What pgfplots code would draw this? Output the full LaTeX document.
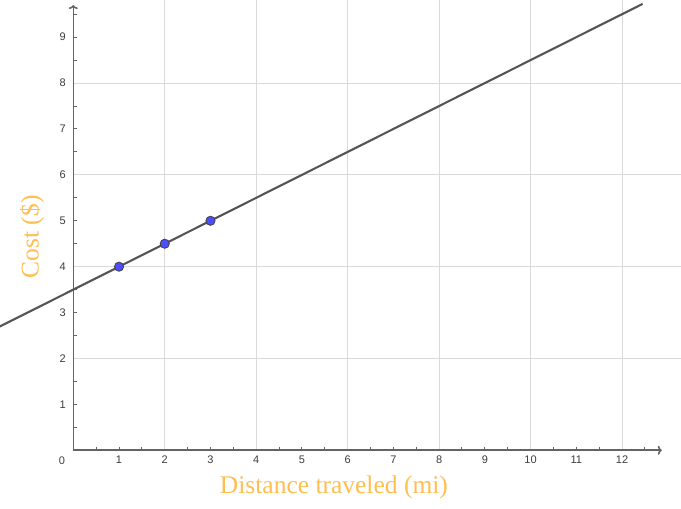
\documentclass[border=0pt]{standalone}
\usepackage{pgfplots}
\pgfplotsset{compat=1.18}
\usepackage{fontspec}
\setmainfont{Liberation Serif}
\newfontfamily\tickfont{Liberation Sans}
\usetikzlibrary{arrows.meta}
\definecolor{lbl}{RGB}{255,190,80}
\definecolor{gridc}{RGB}{218,218,218}
\definecolor{axc}{RGB}{100,100,100}
\definecolor{linec}{RGB}{85,85,85}
\definecolor{ptc}{RGB}{77,77,255}
\definecolor{tickc}{RGB}{60,60,60}
\begin{document}
\begin{tikzpicture}
\begin{axis}[
  width=681pt, height=509pt, scale only axis,
  xmin=-1.603, xmax=13.29, ymin=-1.279, ymax=9.81,
  axis lines=middle, axis line style={draw=none},
  xtick={1,...,12}, ytick={1,...,9},
  minor xtick={0.5,1.5,...,12.5}, minor ytick={0.5,1.5,...,9.5},
  tick align=inside,
  major tick length=3.5pt, minor tick length=3.5pt,
  every tick/.style={axc, line width=1pt},
  every minor tick/.style={axc, line width=1pt},
  /pgf/number format/assume math mode=true,
  xticklabel style={font=\tickfont\fontsize{11}{13}\selectfont, text=tickc, yshift=-2pt},
  yticklabel style={font=\tickfont\fontsize{11}{13}\selectfont, text=tickc, xshift=-4pt},
  clip=true,
]
\path (rel axis cs:0,0) rectangle (rel axis cs:1,1);
% grid
\draw[gridc, line width=0.9pt] (axis cs:2,0) -- (axis cs:2,9.81);
\draw[gridc, line width=0.9pt] (axis cs:4,0) -- (axis cs:4,9.81);
\draw[gridc, line width=0.9pt] (axis cs:6,0) -- (axis cs:6,9.81);
\draw[gridc, line width=0.9pt] (axis cs:8,0) -- (axis cs:8,9.81);
\draw[gridc, line width=0.9pt] (axis cs:10,0) -- (axis cs:10,9.81);
\draw[gridc, line width=0.9pt] (axis cs:12,0) -- (axis cs:12,9.81);
\draw[gridc, line width=0.9pt] (axis cs:0,2) -- (axis cs:13.29,2);
\draw[gridc, line width=0.9pt] (axis cs:0,4) -- (axis cs:13.29,4);
\draw[gridc, line width=0.9pt] (axis cs:0,6) -- (axis cs:13.29,6);
\draw[gridc, line width=0.9pt] (axis cs:0,8) -- (axis cs:13.29,8);
% axes
\draw[axc, line width=1.6pt, -{To[length=4pt,width=9pt]}] (axis cs:0,0) -- (axis cs:12.87,0);
\draw[axc, line width=1.6pt, -{To[length=4pt,width=9pt]}] (axis cs:0,0) -- (axis cs:0,9.70);
\addplot[linec, line width=2.1pt] coordinates {(-2,2.5) (12.45,9.725)};
\addplot[only marks, mark=*, mark size=4.6pt, mark options={fill=ptc, draw=black!75, line width=0.8pt}] coordinates {(1,4) (2,4.5) (3,5)};
\node[font=\tickfont\fontsize{11}{13}\selectfont, text=tickc] at (axis cs:-0.247,-0.233) {0};
\node[font=\fontsize{25.5}{30}\selectfont, text=lbl] at (axis cs:5.70,-0.80) {Distance traveled (mi)};
\node[font=\fontsize{25.5}{30}\selectfont, text=lbl, rotate=90] at (axis cs:-0.903,4.65) {Cost (\$)};
\end{axis}
\end{tikzpicture}
\end{document}
